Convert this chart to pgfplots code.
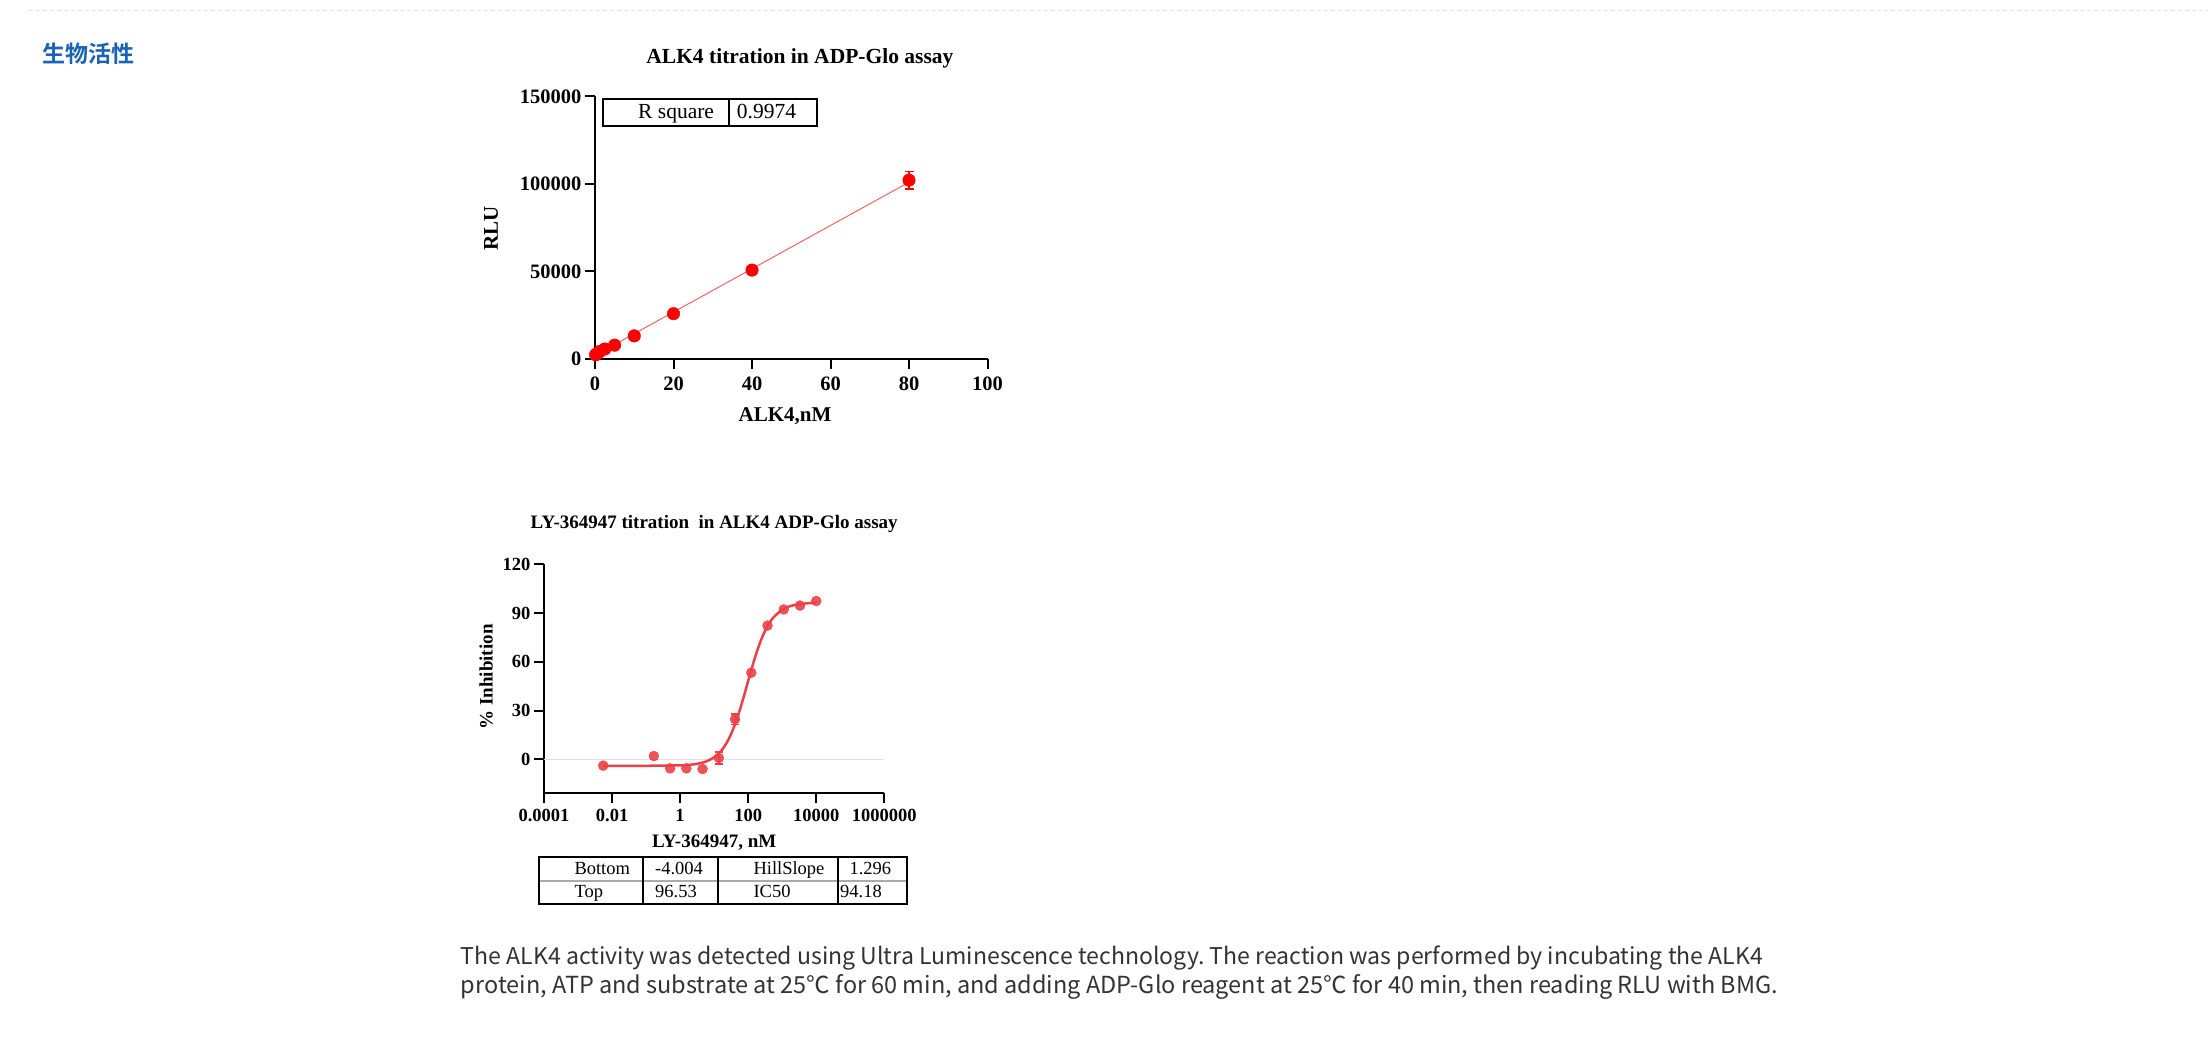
\documentclass[border=0pt]{standalone}
\usepackage{fontspec}
\setmainfont{Liberation Serif}
\newfontfamily\cjk{Noto Sans CJK SC}[BoldFont={Noto Sans CJK SC Bold}]
\usepackage{graphicx}
\usepackage{pgfplots}
\pgfplotsset{compat=1.18}
\definecolor{ptred}{RGB}{255,0,0}
\definecolor{fitred}{RGB}{240,100,100}
\definecolor{lyred}{RGB}{236,64,72}
\definecolor{headblue}{RGB}{25,100,180}
\definecolor{paragray}{RGB}{51,51,51}
\definecolor{dashgray}{RGB}{225,225,225}
\definecolor{zerogray}{RGB}{225,225,225}
\definecolor{rowgray}{RGB}{170,170,170}

\pgfplotsset{
  chartaxis/.style={
    scale only axis, clip=false,
    axis x line*=bottom, axis y line*=left,
    axis line style={line width=2pt, black},
    tick align=outside, major tick length=10pt,
    every tick/.style={black, line width=2pt},
    minor tick num=0,
    scaled x ticks=false, scaled y ticks=false,
  }
}
\newcommand{\degC}{\makebox[1em][c]{℃}}

\begin{document}
\frenchspacing
\begin{tikzpicture}[x=1pt,y=1pt]
\path[use as bounding box] (0,0) rectangle (2208,1043);
% page decoration
\draw[dashgray, line width=1pt, dash pattern=on 4pt off 3pt] (29,1032) -- (2208,1032);
\node[anchor=base west, inner sep=0pt, text=headblue, font=\cjk\bfseries\fontsize{23}{28}\selectfont] at (42,980.8) {生物活性};

% ---------------- top chart ----------------
\begin{axis}[chartaxis,
  at={(595pt,684pt)}, anchor=south west,
  width=392.5pt, height=262.5pt,
  xmin=0, xmax=100, ymin=0, ymax=150000,
  xtick={0,20,40,60,80,100}, xticklabels={0,20,40,60,80,100},
  ytick={0,50000,100000,150000}, yticklabels={0,50000,100000,150000},
  tick label style={font=\fontsize{20.5}{24}\selectfont\bfseries},
  xticklabel style={yshift=-4pt},
  title={ALK4 titration in ADP-Glo assay},
  title style={at={(axis description cs:0.522,1.121)}, anchor=center, yshift=0pt, font=\fontsize{21.5}{26}\selectfont\bfseries},
  xlabel={ALK4,nM},
  xlabel style={at={(axis description cs:0.484,-0.218)}, anchor=center, font=\fontsize{21}{25}\selectfont\bfseries},
  ylabel={RLU},
  ylabel style={at={(axis description cs:-0.265,0.499)}, anchor=center, font=\fontsize{21}{25}\selectfont\bfseries},
]
% linear fit
\addplot[fitred, line width=1pt, mark=none] coordinates {(0,2100) (80,101000)};
% error bar
\addplot[ptred, draw=none, mark=none, forget plot,
  error bars/.cd, y dir=both, y explicit,
  error bar style={line width=1.5pt, ptred},
  error mark options={rotate=90, mark size=4.5pt, line width=1.5pt, ptred}]
  coordinates {(80,102200) +- (0,5000)};
% points
\addplot[only marks, mark=*, mark size=6.3pt, ptred, mark options={fill=ptred, draw=ptred}] coordinates {
 (0.156,2400) (0.3125,2700) (0.625,3300) (1.25,4300) (2.5,5700) (5,7900)
 (10,13200) (20,25900) (40,50800) (80,102200)};
\end{axis}
% R square box
\draw[line width=2pt] (602.7,917) rectangle (817.3,944);
\draw[line width=2pt] (729.3,917) -- (729.3,944);
\node[anchor=base west, inner sep=0pt, font=\fontsize{21.5}{25}\selectfont] at (638,924.7) {R square};
\node[anchor=base west, inner sep=0pt, font=\fontsize{21.5}{25}\selectfont] at (736.7,924.7) {0.9974};

% ---------------- bottom chart ----------------
\begin{axis}[chartaxis,
  at={(544pt,250.3pt)}, anchor=south west,
  width=340.3pt, height=228.4pt,
  xmode=log, xmin=0.0001, xmax=1000000, ymin=-20.55, ymax=120,
  xtick={0.0001,0.01,1,100,10000,1000000},
  xticklabels={0.0001,0.01,1,100,10000,1000000},
  minor xtick={},
  ytick={0,30,60,90,120}, yticklabels={0,30,60,90,120},
  tick label style={font=\fontsize{18.5}{22}\selectfont\bfseries},
  xticklabel style={yshift=-3pt},
  title={LY-364947 titration\ \ in ALK4 ADP-Glo assay},
  title style={at={(axis description cs:0.5,1.150)}, anchor=center, yshift=0pt, font=\fontsize{19}{23}\selectfont\bfseries},
  xlabel={LY-364947, nM},
  xlabel style={at={(axis description cs:0.5,-0.218)}, anchor=center, font=\fontsize{19}{23}\selectfont\bfseries},
  ylabel={\% Inhibition},
  ylabel style={at={(axis description cs:-0.170,0.507)}, anchor=center, font=\fontsize{19}{23}\selectfont\bfseries},
]
\addplot[zerogray, line width=1.5pt, mark=none, forget plot] coordinates {(0.0001,0) (1000000,0)};
% fitted curve (four-parameter logistic, values tabulated)
\addplot[lyred, line width=2.5pt, mark=none, smooth] coordinates {
 (0.0055,-4.00) (0.1,-3.99) (1,-3.73) (1.778,-3.42) (3.162,-2.78) (5.623,-1.47)
 (10,1.21) (13.34,3.39) (17.78,6.39) (23.71,10.42) (31.62,15.66) (42.17,22.23)
 (56.23,30.06) (74.99,38.9) (100,48.22) (133.4,57.41) (177.8,65.87) (237.1,73.21)
 (316.2,79.22) (421.7,83.94) (562.3,87.50) (1000,92.04) (1778,94.35) (3162,95.48)
 (5623,96.03) (10000,96.29)};
% error bars
\addplot[lyred, draw=none, mark=none, forget plot,
  error bars/.cd, y dir=both, y explicit,
  error bar style={line width=1.5pt, lyred},
  error mark options={rotate=90, mark size=4pt, line width=1.5pt, lyred}]
  coordinates {(13.72,0.8) +- (0,3.6) (41.15,24.7) +- (0,3.3)};
% points
\addplot[only marks, mark=*, mark size=5pt, lyred, mark options={fill=lyred, draw=lyred, opacity=0.9}] coordinates {
 (0.0055,-3.9) (0.169,2.0) (0.508,-5.6) (1.524,-5.6) (4.572,-6.0) (13.72,0.8)
 (41.15,24.7) (123.5,53.3) (370.4,82.3) (1111,92.2) (3333,94.6) (10000,97.4)};
\end{axis}
% parameter table
\draw[rowgray, line width=2pt] (539,162.3) -- (907.3,162.3);
\draw[line width=2pt] (539,138.7) rectangle (907.3,186.3);
\foreach \cx in {642.7,718.3,837.7} \draw[line width=2pt] (\cx,138.7) -- (\cx,186.3);
\begin{scope}[every node/.style={anchor=base west, inner sep=0pt, font=\fontsize{18.5}{22}\selectfont}]
\node at (574.3,168.7) {Bottom};
\node at (655,168.7) {-4.004};
\node at (753.3,168.7) {HillSlope};
\node at (849.3,168.7) {1.296};
\node at (574.3,145) {Top};
\node at (655,145) {96.53};
\node at (753.3,145) {IC50};
\node at (840,145) {94.18};
\end{scope}

% paragraph
\begin{scope}[every node/.style={anchor=base west, inner sep=0pt, text=paragray, font=\cjk\fontsize{23.5}{28}\selectfont}]
\node at (460.7,78.7) {\resizebox{1302pt}{!}{The ALK4 activity was detected using Ultra Luminescence technology. The reaction was performed by incubating the ALK4}};
\node at (460.7,49) {\resizebox{1317pt}{!}{protein, ATP and substrate at 25\degC{} for 60 min, and adding ADP-Glo reagent at 25\degC{} for 40 min, then reading RLU with BMG.}};
\end{scope}
\end{tikzpicture}
\end{document}
